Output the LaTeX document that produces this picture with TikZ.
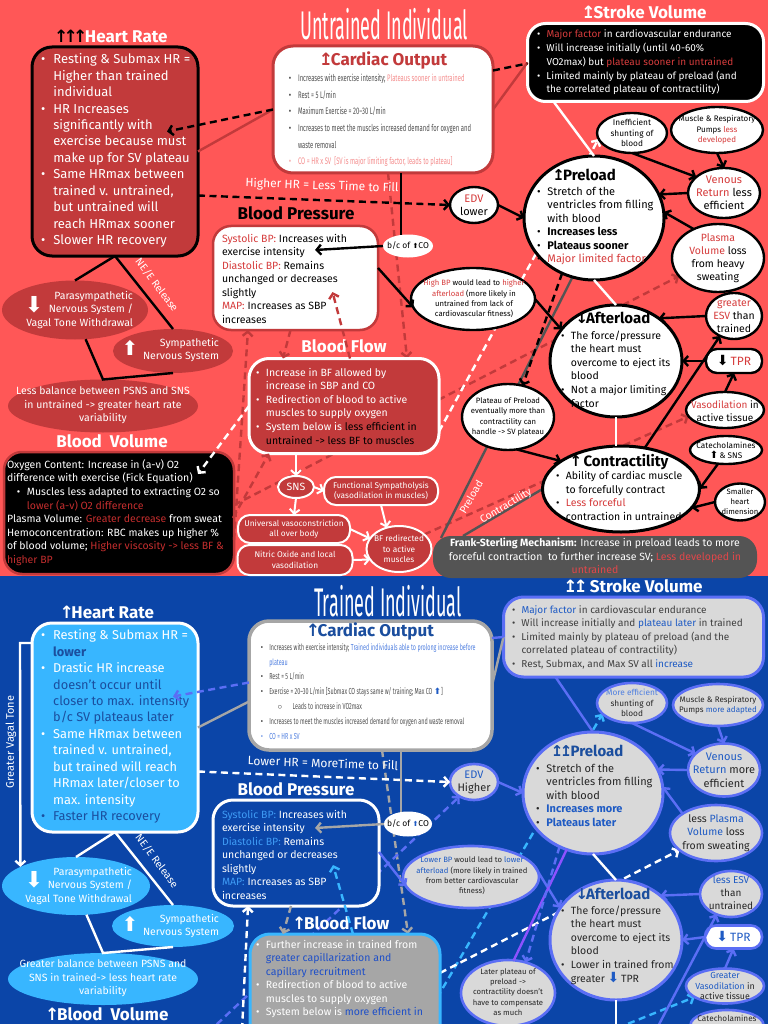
\documentclass[tikz,border=0pt]{standalone}
\usepackage{fontspec}
\setmainfont{Fira Sans}
\newfontfamily\cnd[FakeStretch=0.62]{Fira Sans}
\newfontfamily\tfont[FakeStretch=0.45]{Fira Sans}
\newfontfamily\dvs{DejaVu Sans}
\usetikzlibrary{shapes.geometric,arrows.meta,calc}
\pgfdeclarelayer{bgl}\pgfdeclarelayer{lns}\pgfsetlayers{bgl,lns,main}
\definecolor{bgred}{HTML}{FF5757}
\definecolor{dred}{HTML}{C23A3B}
\definecolor{tred}{HTML}{D63C3C}
\definecolor{vred}{HTML}{C42E2E}
\definecolor{pnk}{HTML}{F58E8E}
\definecolor{fsred}{HTML}{E0474A}
\definecolor{txg}{HTML}{505050}
\definecolor{dgray}{HTML}{545454}
\definecolor{bgblue}{HTML}{0B45A8}
\definecolor{lblue}{HTML}{38B6FF}
\definecolor{peri}{HTML}{5B6EF5}
\definecolor{lgray}{HTML}{D9D9D9}
\definecolor{tblue}{HTML}{1F5BC4}
\definecolor{dblue}{HTML}{1B4E9E}
\definecolor{cblue}{HTML}{4F7FE0}
\definecolor{sblue}{HTML}{3E9BF5}
\definecolor{bfblue}{HTML}{1E4FC8}
\definecolor{mgray}{HTML}{A6A6A6}
\definecolor{purp}{HTML}{8C52FF}
\definecolor{dk}{HTML}{262626}
\definecolor{svg}{HTML}{404040}
\newcommand\fs[2]{\fontsize{#1}{#2}\selectfont}
\newcommand\bu{\makebox[0.95em][l]{\textbullet}}
\newcommand\ci{\hspace*{0.95em}}
\newcommand\au{{\dvs\bfseries\hspace{-0.14em}↑\hspace{-0.14em}}}
\newcommand\ad{{\dvs\bfseries\hspace{-0.14em}↓\hspace{-0.14em}}}
\newcommand\ab{{\dvs\bfseries\hspace{-0.12em}↥\hspace{-0.12em}}}
\newcommand\bup{{\dvs ⬆}}
\newcommand\bdn{{\dvs ⬇}}
\tikzset{
 nb/.style={inner sep=0pt, outer sep=0pt},
 rbox/.style={nb, rectangle, rounded corners=18pt},
 oval/.style={nb, ellipse},
 wov/.style={oval, draw=black, line width=2.4pt, fill=white},
 gov/.style={oval, draw=peri, line width=2.6pt, fill=lgray},
 ttl/.style={nb, font=\fs{17}{20}\bfseries},
 txl/.style={nb, align=left, anchor=west},
 txc/.style={nb, align=center},
 arr/.style={-{Straight Barb[length=4.5pt,width=10pt]}},
 cn/.style={line width=2.4pt},
 dsh/.style={dash pattern=on 7pt off 4.5pt},
}
\begin{document}
\begin{tikzpicture}[x=1pt,y=-1pt]
\useasboundingbox (0,0) rectangle (768,1024);
\begin{pgfonlayer}{bgl}
\fill[bgred] (0,0) rectangle (768,576);
\fill[bgblue] (0,576) rectangle (768,1024);
\end{pgfonlayer}
\coordinate (gv1) at (20,643);
\coordinate (cb2) at (616,1030);
\coordinate (cb3) at (655,1032);
\coordinate (wv1) at (242,1030);
\coordinate (lbs) at (500,1075);
\coordinate (pv1) at (200,1040);

% ================= TOP: UNTRAINED =================
\node[nb, font=\tfont\fs{40}{40}, text=white] (ut) at (384,24) {Untrained Individual};

\node[ttl, text=white] (hrT) at (112,36) {{\color{black}\au\au\au}Heart Rate};
\node[rbox, rounded corners=20pt, draw=black, line width=3pt, fill=dred, minimum width=166pt, minimum height=209pt] (hr) at (115,151.5) {};
\node[txl, text=white, font=\fs{13}{16.45}] (hrTx) at (41,150.5) {\bu Resting \& Submax HR =\\ \ci Higher than trained\\ \ci individual\\ \bu HR Increases\\ \ci significantly with\\ \ci exercise because must\\ \ci make up for SV plateau\\ \bu Same HRmax between\\ \ci trained v. untrained,\\ \ci but untrained will\\ \ci reach HRmax sooner\\ \bu Slower HR recovery};

\node[rbox, rounded corners=20pt, draw=dred, line width=3pt, fill=white, minimum width=220pt, minimum height=127pt] (co) at (383,109.5) {};
\node[ttl, text=dred] (coT) at (384,60) {\ab Cardiac Output};
\node[txl, text=txg, font=\cnd\fs{9.5}{16.6}] (coTx) at (289,120.5) {{\color{black}\bu}Increases with exercise intensity; {\color{pnk}Plateaus sooner in untrained}\\ {\color{black}\bu}Rest = 5 L/min\\ {\color{black}\bu}Maximum Exercise = 20–30 L/min\\ {\color{black}\bu}Increases to meet the muscles increased demand for oxygen and\\ \ci waste removal\\ {\color{pnk}\bu CO = HR x SV\ \ [SV is major limiting factor, leads to plateau]}};

\node[ttl, text=white] (svT) at (645,12) {\ab Stroke Volume};
\node[rbox, draw=white, line width=3pt, fill=black, minimum width=236pt, minimum height=78pt] (sv) at (645.5,62.5) {};
\node[txl, text=white, font=\fs{10}{13.8}] (svTx) at (537,62.5) {\bu {\color{tred}Major factor} in cardiovascular endurance\\ \bu Will increase initially (until 40-60\%\\ \ci VO2max) but {\color{tred}plateau sooner in untrained}\\ \bu Limited mainly by plateau of preload (and\\ \ci the correlated plateau of contractility)};

\node[wov, minimum width=70pt, minimum height=40pt] (shunt) at (632,133) {};
\node[txc, font=\fs{8.3}{10.5}] (shuntTx) at (632,133) {Inefficient\\shunting of\\blood};
\node[wov, minimum width=92pt, minimum height=46pt] (pumps) at (717,130) {};
\node[txc, font=\fs{8}{10.5}] (pumpsTx) at (717,130) {Muscle \& Respiratory\\Pumps {\color{tred}less}\\{\color{tred}developed}};
\node[wov, minimum width=72pt, minimum height=50pt] (ven) at (724,193) {};
\node[txc, font=\fs{11}{13}] (venTx) at (724,193) {{\color{tred}Venous}\\{\color{tred}Return} less\\efficient};
\node[wov, minimum width=92pt, minimum height=68pt] (plv) at (718,258) {};
\node[txc, font=\fs{10.5}{13.2}] (plvTx) at (718,258) {{\color{tred}Plasma}\\{\color{tred}Volume} loss\\from heavy\\sweating};
\node[wov, minimum width=48pt, minimum height=36pt] (edv) at (474,205) {};
\node[txc, font=\fs{11}{13}] (edvTx) at (474,205) {{\color{tred}EDV}\\lower};

\node[wov, line width=3pt, minimum width=140pt, minimum height=124pt] (pre) at (594,218) {};
\node[nb, font=\fs{15}{18}\bfseries] (preT) at (585,175) {\ab Preload};
\node[txl, font=\fs{11}{13.4}] (preTx) at (537,226) {\bu Stretch of the\\ \ci ventricles from filling\\ \ci with blood\\ \bu \textbf{Increases less}\\ \bu \textbf{Plateaus sooner}\\ \bu {\color{tred}Major limited factor}};

\node[ttl] (bpT) at (296,213) {Blood Pressure};
\node[rbox, draw=dred, line width=2.5pt, fill=white, minimum width=165pt, minimum height=104pt] (bp) at (295.5,278) {};
\node[txl, font=\fs{10.5}{13.5}] (bpTx) at (222,278.5) {{\color{tred}Systolic BP:} Increases with\\exercise intensity\\{\color{tred}Diastolic BP:} Remains\\unchanged or decreases\\slightly\\{\color{tred}MAP:} Increases as SBP\\increases};

\node[oval, fill=white, minimum width=50pt, minimum height=23pt] (bc) at (408,246) {};
\node[nb, font=\fs{8.5}{10}] (bcTx) at (408,246) {b/c of {\fs{7}{7}\bup}CO};

\node[nb, rotate=-53, text=white, font=\fs{10.5}{12}] (ne) at (157,285) {NE/E Release};
\node[oval, fill=dred, minimum width=146pt, minimum height=59pt] (para) at (75,310) {};
\node[nb, text=white, font=\fs{22}{22}] (paA) at (34,305) {\bdn};
\node[nb, align=right, anchor=east, text=white, font=\fs{10.5}{13.5}] (paTx) at (133,310) {Parasympathetic\\Nervous System /\\Vagal Tone Withdrawal};
\node[oval, fill=dred, minimum width=120pt, minimum height=44pt] (sym) at (173,351) {};
\node[nb, text=white, font=\fs{20}{20}] (syA) at (130,348) {\bup};
\node[nb, align=right, anchor=east, text=white, font=\fs{10.5}{13.5}] (syTx) at (219,350) {Sympathetic\\Nervous System};
\node[oval, fill=dred, minimum width=190pt, minimum height=53pt] (lb) at (103,406) {};
\node[txc, text=white, font=\fs{10.5}{13.4}] (lbTx) at (103,405.5) {Less balance between PSNS and SNS\\in untrained -> greater heart rate\\variability};

\node[ttl, text=white] (bvT) at (112,441) {Blood\ \ Volume};
\node[rbox, draw=dred, line width=2.5pt, fill=black, minimum width=230pt, minimum height=122pt] (bv) at (119,513) {};
\node[txl, text=white, font=\fs{10.5}{13.55}] (bvTx) at (7,512.5) {Oxygen Content: Increase in (a-v) O2\\difference with exercise (Fick Equation)\\ \ci\bu Muscles less adapted to extracting O2 so\\ \ci\ci{\color{vred}lower (a-v) O2 difference}\\Plasma Volume: {\color{vred}Greater decrease} from sweat\\Hemoconcentration: RBC makes up higher \%\\of blood volume; {\color{vred}Higher viscosity -> less BF \&}\\{\color{vred}higher BP}};

\node[ttl, text=white] (bfT) at (344,346) {Blood Flow};
\node[rbox, rounded corners=20pt, draw=white, line width=3pt, fill=dred, minimum width=190pt, minimum height=95pt] (bf) at (344,406) {};
\node[txl, text=white, font=\fs{10.5}{13.6}] (bfTx) at (256,406) {\bu Increase in BF allowed by\\ \ci increase in SBP and CO\\ \bu Redirection of blood to active\\ \ci muscles to supply oxygen\\ \bu System below is {\color{black}less efficient in}\\ \ci{\color{black}untrained -> less BF to muscles}};

\node[oval, draw=white, line width=2pt, fill=dred, minimum width=36pt, minimum height=22pt] (sns) at (296,487) {};
\node[nb, text=white, font=\fs{10.5}{12}] (snsTx) at (296,487) {SNS};
\node[rbox, rounded corners=12pt, draw=white, line width=2pt, fill=dred, minimum width=114pt, minimum height=28pt] (fsy) at (381,491) {};
\node[txc, text=white, font=\fs{8.3}{10.5}] (fsyTx) at (381,491) {Functional Sympatholysis\\(vasodilation in muscles)};
\node[rbox, rounded corners=12pt, draw=white, line width=2pt, fill=dred, minimum width=112pt, minimum height=28pt] (univ) at (294,529) {};
\node[txc, text=white, font=\fs{8.3}{10.5}] (univTx) at (294,529) {Universal vasoconstriction\\all over body};
\node[rbox, rounded corners=12pt, draw=white, line width=2pt, fill=dred, minimum width=115pt, minimum height=30pt] (nit) at (295,560) {};
\node[txc, text=white, font=\fs{8.3}{10.5}] (nitTx) at (295,560) {Nitric Oxide and local\\vasodilation};
\node[oval, draw=white, line width=2pt, fill=dred, minimum width=65pt, minimum height=46pt] (bfr) at (399,549) {};
\node[txc, text=white, font=\fs{8.3}{10.5}] (bfrTx) at (399,549) {BF redirected\\to active\\muscles};

\node[wov, minimum width=124pt, minimum height=62pt] (hbp) at (473,299) {};
\node[txc, font=\fs{7.7}{10.3}] (hbpTx) at (474,299) {{\color{tred}High BP} would lead to {\color{tred}higher}\\{\color{tred}afterload} (more likely in\\untrained from lack of\\cardiovascular fitness)};

\node[wov, line width=3pt, minimum width=132pt, minimum height=112pt] (aft) at (616,361) {};
\node[nb, font=\fs{15}{18}\bfseries] (aftT) at (614,318) {\ad Afterload};
\node[txl, font=\fs{10.5}{13.6}] (aftTx) at (561,369) {\bu The force/pressure\\ \ci the heart must\\ \ci overcome to eject its\\ \ci blood\\ \bu Not a major limiting\\ \ci factor};

\node[wov, minimum width=92pt, minimum height=66pt] (plat) at (508,417) {};
\node[txc, font=\fs{7.7}{10.6}] (platTx) at (508,417) {Plateau of Preload\\eventually more than\\contractility can\\handle -> SV plateau};

\node[wov, line width=3pt, minimum width=157pt, minimum height=86pt] (con) at (621,489) {};
\node[nb, font=\fs{15}{18}\bfseries] (conT) at (620,462) {\au\ Contractility};
\node[txl, font=\fs{10.5}{13.4}] (conTx) at (556,496) {\bu Ability of cardiac muscle\\ \ci to forcefully contract\\ \bu {\color{tred}Less forceful}\\ \ci contraction in untrained};

\node[wov, minimum width=56pt, minimum height=46pt] (esv) at (734,316) {};
\node[txc, font=\fs{10.5}{13}] (esvTx) at (734,316) {{\color{tred}greater}\\{\color{tred}ESV} than\\trained};
\node[rbox, rounded corners=11pt, draw=black, line width=2.4pt, fill=white, minimum width=56pt, minimum height=24pt] (tpr) at (734,361) {};
\node[nb, font=\fs{12}{12}] (tprTx) at (734,361) {{\fs{14}{14}\bdn}\,{\color{tred}TPR}};
\node[wov, minimum width=78pt, minimum height=36pt] (vaso) at (725,410) {};
\node[txc, font=\fs{10}{12.5}] (vasoTx) at (725,411) {{\color{tred}Vasodilation} in\\active tissue};
\node[wov, minimum width=72pt, minimum height=28pt] (cat) at (726,450) {};
\node[txc, font=\fs{8.2}{10}] (catTx) at (726,450) {Catecholamines\\{\fs{10}{10}\bup}\,\& SNS};
\node[wov, minimum width=50pt, minimum height=37pt] (shd) at (740,502) {};
\node[txc, font=\fs{7.7}{10}] (shdTx) at (740,502) {Smaller\\heart\\dimension};

\node[rbox, fill=dgray, minimum width=324pt, minimum height=42pt] (fsm) at (595,557) {};
\node[txc, text=white, font=\fs{10.5}{13.5}] (fsmTx) at (595,556) {\textbf{Frank-Sterling Mechanism:} Increase in preload leads to more\\forceful contraction\ \ to further increase SV; {\color{fsred}Less developed in}\\{\color{fsred}untrained}};

\node[nb, rotate=-2, text=white, font=\fs{12}{14}] (hhr) at (322,186) {Higher HR = Less Time to Fill};
\node[nb, rotate=60, text=white, font=\fs{10.5}{12}] (plLab) at (471,497) {Preload};
\node[nb, rotate=31, text=white, font=\fs{10.5}{12}] (ctLab) at (506,506) {Contractility};

% top connectors, behind
\begin{pgfonlayer}{lns}
\draw[cn, dred, dsh, arr] ($(co.south)+(5,0)$) -- ($(bf.north)+(63,0)$);
\draw[cn, dred, dsh, arr] ($(bv.east)+(0,-8)$) -- (plv.205);
\draw[cn, dred, dsh, arr] (bfr.30) -- (vaso.190);
\draw[cn, white, dsh, arr] (bf.-15) -- (shunt.190);
\draw[cn, dgray] (pre.250) -- ($(fsm.north west)+(8,2)$);
\draw[cn, dgray] (con.west) -- ($(fsm.north west)+(30,0)$);
\end{pgfonlayer}
\draw[cn, dred] (co.west) -- (hr.east);
\draw[cn, dred] (co.east) -- (sv.west);
\draw[cn, dsh] ($(co.east)+(0,-39)$) -- ($(sv.west)+(0,1)$);
\draw[cn, dsh, arr] (co.west) -- ($(hr.center)+(52,-20)$);
\draw[cn, dsh, arr] ($(hr.east)+(0,44)$) -- (edv.west);
\draw[cn] ($(co.south)+(18,0)$) -- ($(bc.north)+(-7,0)$);
\draw[cn, arr] (bc.west) -- ($(bp.north west)+(102,24)$);
\draw[cn, arr] ($(bp.east)+(0,-10)$) -- (hbp.188);
\draw[cn, arr] (hbp.east) -- (aft.150);
\draw[cn, arr] (edv.east) -- (pre.west);
\draw[cn, arr] (shunt.south) -- (ven.150);
\draw[cn, arr] (pumps.south) -- (ven.north);
\draw[cn, arr] (ven.west) -- (pre.20);
\draw[cn, arr] (plv.130) -- (pre.5);
\draw[cn, white] ($(sv.south)+(-92,0)$) -- (pre.north);
\draw[cn, white] (pre.south) -- (aft.north);
\draw[cn, white] (aft.south) -- (aft.south |- con.north);
\draw[cn, dsh, arr] (pre.240) -- (plat.65);
\draw[cn, arr] (plat.-75) -- (con.155);
\draw[cn, arr] (esv.west) -- (aft.45);
\draw[cn, arr] (tpr.west) -- (aft.east);
\draw[cn, arr] (vaso.north) -- (tpr.south);
\draw[cn, arr] (con.60) -- (esv.235);
\draw[cn, arr] (cat.240) -- (con.east);
\draw[cn, arr] (shd.west) -- (con.-15);
\draw[cn] (hr.south) -- (sym.north);
\draw[cn] (hr.south) -- (para.north);
\draw[cn] (para.-70) -- (lb.north) -- (sym.south);
\draw[line width=2pt, white, arr] (bf.south -| sns.north) -- (sns.north);
\draw[line width=2pt, white, arr] (sns.east) -- (fsy.west);
\draw[line width=2pt, white, arr] (sns.south) -- (univ.north);
\draw[line width=2pt, white, arr] (fsy.south) -- (bfr.120);
\draw[line width=2pt, white, arr] (univ.east) -- (bfr.160);
\draw[line width=2pt, white, arr] (nit.east) -- (bfr.200);
\draw[cn, white, dsh, arr] (bf.west) -- ($(bv.north east)+(-36,22)$);
\draw[cn, dred, dsh, arr] ($(bp.south)+(-5,0)$) -- ($(bf.north)+(-61,0)$);
\draw[cn, dred, dsh, arr] ($(bf.north)+(6,0)$) -- ($(bp.south)+(37,-38)$);
\draw[cn, dred, dsh, arr] ($(bv.east)+(0,27)$) -- ($(bp.south west)+(35,0)$);
\draw[cn, dred, dsh, arr] ($(bv.east)+(-1,5)$) -- ($(bf.south west)+(20,0)$);

% ================= BOTTOM: TRAINED =================
\node[nb, font=\tfont\fs{40}{40}, text=white] (tt) at (388,601) {Trained Individual};
\node[ttl, text=white] (hrT2) at (108,612) {\au Heart Rate};
\node[rbox, rounded corners=20pt, draw=white, line width=3pt, fill=lblue, minimum width=166pt, minimum height=209pt] (hr2) at (115,727.5) {};
\node[txl, text=white, font=\fs{12.8}{16.45}] (hr2Tx) at (41,726.5) {\bu Resting \& Submax HR =\\ \ci{\color{dblue}\textbf{lower}}\\ \bu Drastic HR increase\\ \ci{\color{dblue}doesn’t occur until}\\ \ci{\color{dblue}closer to max. intensity}\\ \ci{\color{dblue}b/c SV plateaus later}\\ \bu Same HRmax between\\ \ci trained v. untrained,\\ \ci but trained will reach\\ \ci HRmax later/closer to\\ \ci max. intensity\\ {\color{dblue}\bu Faster HR recovery}};
\node[nb, rotate=90, text=white, font=\fs{11}{12}] (gvt) at (11,742) {Greater Vagal Tone};

\node[rbox, rounded corners=20pt, draw=mgray, line width=3.5pt, fill=white, minimum width=243pt, minimum height=129pt] (co2) at (370.5,685.5) {};
\node[ttl, text=dblue] (co2T) at (371,631) {\au Cardiac Output};
\node[txl, text=txg, font=\cnd\fs{8.7}{14.85}] (co2Tx) at (261,691.5) {{\color{black}\bu}Increases with exercise intensity; {\color{cblue}Trained individuals able to prolong increase before}\\ \ci{\color{cblue}plateau}\\ {\color{black}\bu}Rest = 5 L/min\\ {\color{black}\bu}Exercise = 20–30 L/min [Submax CO stays same w/ training; Max CO {\color{tblue}\bup}]\\ \ci\ci$\circ$\hspace{1.2em}Leads to increase in VO2max\\ {\color{black}\bu}Increases to meet the muscles increased demand for oxygen and waste removal\\ {\color{cblue}\bu CO = HR x SV}};

\node[ttl, text=white] (sv2T) at (634,586) {\ab\ab\ Stroke Volume};
\node[rbox, rounded corners=20pt, draw=peri, line width=3pt, fill=lgray, minimum width=260pt, minimum height=80pt] (sv2) at (633.5,637) {};
\node[txl, text=svg, font=\fs{10}{13.5}] (sv2Tx) at (512,637) {\bu {\color{tblue}Major factor} in cardiovascular endurance\\ \bu Will increase initially and {\color{tblue}plateau later} in trained\\ \bu Limited mainly by plateau of preload (and the\\ \ci correlated plateau of contractility)\\ \bu Rest, Submax, and Max SV all {\color{tblue}increase}};

\node[gov, minimum width=70pt, minimum height=40pt] (shunt2) at (632,703) {};
\node[txc, text=dk, font=\fs{8.3}{10.5}] (shunt2Tx) at (632,703) {{\color{cblue}More efficient}\\shunting of\\blood};
\node[gov, minimum width=90pt, minimum height=42pt] (pumps2) at (718,705) {};
\node[txc, text=dk, font=\fs{8}{10.5}] (pumps2Tx) at (718,705) {Muscle \& Respiratory\\Pumps {\color{tblue}more adapted}};
\node[gov, minimum width=72pt, minimum height=53pt] (ven2) at (724,770) {};
\node[txc, text=dk, font=\fs{11}{13.5}] (ven2Tx) at (724,770) {{\color{tblue}Venous}\\{\color{tblue}Return} more\\efficient};
\node[gov, minimum width=92pt, minimum height=56pt] (plv2) at (716,833) {};
\node[txc, text=dk, font=\fs{10.5}{13.3}] (plv2Tx) at (716,833) {less {\color{tblue}Plasma}\\{\color{tblue}Volume} loss\\from sweating};
\node[gov, minimum width=48pt, minimum height=36pt] (edv2) at (474,782) {};
\node[txc, text=dk, font=\fs{11}{13}] (edv2Tx) at (474,782) {{\color{tblue}EDV}\\Higher};

\node[gov, line width=3pt, minimum width=140pt, minimum height=122pt] (pre2) at (593,793) {};
\node[nb, text=dblue, font=\fs{15}{18}\bfseries] (pre2T) at (588,751) {\ab\ab Preload};
\node[txl, text=dk, font=\fs{11}{13.5}] (pre2Tx) at (536,795) {\bu Stretch of the\\ \ci ventricles from filling\\ \ci with blood\\ \bu {\color{tblue}\textbf{Increases more}}\\ \bu {\color{tblue}\textbf{Plateaus later}}};

\node[ttl, text=white] (bp2T) at (296,789) {Blood Pressure};
\node[rbox, rounded corners=20pt, draw=white, line width=3pt, fill=bgblue, minimum width=166pt, minimum height=106pt] (bp2) at (296,853) {};
\node[txl, text=white, font=\fs{10.5}{13.5}] (bp2Tx) at (222,854.5) {{\color{sblue}Systolic BP:} Increases with\\exercise intensity\\{\color{sblue}Diastolic BP:} Remains\\unchanged or decreases\\slightly\\{\color{sblue}MAP:} Increases as SBP\\increases};
\node[oval, fill=white, minimum width=48pt, minimum height=25pt] (bc2) at (408,824) {};
\node[nb, font=\fs{8.5}{10}] (bc2Tx) at (408,824) {b/c of {\fs{7}{7}\color{tblue}\bup}CO};

\node[gov, minimum width=136pt, minimum height=62pt] (lowbp) at (471,877) {};
\node[txc, text=dk, font=\fs{7.7}{10.3}] (lowbpTx) at (472,876) {{\color{tblue}Lower BP} would lead to {\color{tblue}lower}\\{\color{tblue}afterload} (more likely in trained\\from better cardiovascular\\fitness)};

\node[nb, rotate=-53, text=white, font=\fs{10.5}{12}] (ne2) at (157,861) {NE/E Release};
\node[oval, fill=lblue, minimum width=148pt, minimum height=58pt] (para2) at (76,886) {};
\node[nb, text=white, font=\fs{22}{22}] (pa2A) at (34,880) {\bdn};
\node[nb, align=right, anchor=east, text=white, font=\fs{10.5}{13.5}] (pa2Tx) at (132,886) {Parasympathetic\\Nervous System /\\Vagal Tone Withdrawal};
\node[oval, fill=lblue, minimum width=122pt, minimum height=42pt] (sym2) at (173,926) {};
\node[nb, text=white, font=\fs{20}{20}] (sy2A) at (130,924) {\bup};
\node[nb, align=right, anchor=east, text=white, font=\fs{10.5}{13.5}] (sy2Tx) at (219,926) {Sympathetic\\Nervous System};
\node[oval, fill=lblue, minimum width=190pt, minimum height=52pt] (lb2) at (103,979) {};
\node[txc, text=white, font=\fs{10.5}{13.4}] (lb2Tx) at (103,978.5) {Greater balance between PSNS and\\SNS in trained-> less heart rate\\variability};
\node[ttl, text=white] (bv2T) at (108,1014) {\au Blood\ \ Volume};

\node[ttl, text=white] (bf2T) at (342,923) {\au Blood Flow};
\node[rbox, rounded corners=20pt, draw=lblue, line width=3pt, fill=mgray, minimum width=190pt, minimum height=132pt] (bf2) at (345,1000) {};
\node[nb, align=left, anchor=north west, text=white, font=\fs{10.5}{13.5}] (bf2Tx) at (256,940) {\bu Further increase in trained from\\ \ci{\color{bfblue}greater capillarization and}\\ \ci{\color{bfblue}capillary recruitment}\\ \bu Redirection of blood to active\\ \ci muscles to supply oxygen\\ \bu System below is {\color{bfblue}more efficient in}};

\node[gov, line width=3pt, minimum width=132pt, minimum height=120pt] (aft2) at (616,940) {};
\node[nb, text=dblue, font=\fs{15}{18}\bfseries] (aft2T) at (614,894) {\ad Afterload};
\node[txl, text=dk, font=\fs{10.5}{13.6}] (aft2Tx) at (561,945) {\bu The force/pressure\\ \ci the heart must\\ \ci overcome to eject its\\ \ci blood\\ \bu Lower in trained from\\ \ci greater {\fs{14}{13}\color{tblue}\bdn}\,TPR};

\node[gov, minimum width=94pt, minimum height=66pt] (lat) at (508,993) {};
\node[txc, text=dk, font=\fs{7.7}{10.2}] (latTx) at (508,992) {Later plateau of\\preload ->\\contractility doesn’t\\have to compensate\\as much};

\node[gov, minimum width=62pt, minimum height=46pt] (esv2) at (731,894) {};
\node[txc, text=dk, font=\fs{10}{12.8}] (esv2Tx) at (731,893) {{\color{tblue}less ESV}\\than\\untrained};
\node[rbox, rounded corners=11pt, draw=peri, line width=2.6pt, fill=white, minimum width=57pt, minimum height=23pt] (tpr2) at (733.5,937) {};
\node[nb, text=tblue, font=\fs{12}{12}] (tpr2Tx) at (733.5,937) {{\fs{14}{14}\bdn}\,TPR};
\node[gov, minimum width=78pt, minimum height=35pt] (vaso2) at (725,986) {};
\node[txc, text=dk, font=\fs{8.8}{10.5}] (vaso2Tx) at (725,986) {{\color{tblue}Greater}\\{\color{tblue}Vasodilation} in\\active tissue};
\node[gov, minimum width=73pt, minimum height=30pt] (cat2) at (727,1025) {};
\node[nb, text=dk, font=\fs{8.2}{10}] (cat2Tx) at (727,1018) {Catecholamines};

\node[nb, rotate=-2, text=white, font=\fs{12}{14}] (lhr) at (323,763) {Lower HR = MoreTime to Fill};

% bottom connectors
\begin{pgfonlayer}{lns}
\draw[cn, mgray, dsh, arr] ($(co2.south)+(11.5,0)$) -- ($(bf2.north)+(63,0)$);
\draw[cn, lblue, dsh, arr] ($(bf2.east)+(-3,-2)$) -- (shunt2.200);
\draw[cn, white, dsh, arr] ($(bf2.east)+(0,-27)$) -- (plv2.205);
\draw[cn, lblue, dsh, arr] (lbs) -- (vaso2.200);
\draw[cn, peri, dsh, arr] (pv1) -- (edv2.225);
\end{pgfonlayer}
\draw[cn, mgray] (co2.east) -- (sv2.west);
\draw[cn, peri] ($(co2.north east)+(0,17)$) -- (sv2.west);
\draw[cn, peri, dsh, arr] ($(co2.west)+(0,-3)$) -- ($(hr2.center)+(58,-31)$);
\draw[cn, mgray] ($(co2.west)+(0,16)$) -- (hr2.east);
\draw[cn, white, dsh, arr] ($(hr2.east)+(0,44)$) -- (edv2.west);
\draw[cn, peri, arr] (edv2.east) -- (pre2.west);
\draw[cn, peri, arr] (shunt2.south) -- (ven2.150);
\draw[cn, peri, arr] (pumps2.south) -- (ven2.north);
\draw[cn, peri, arr] (ven2.west) -- (pre2.20);
\draw[cn, peri, arr] (plv2.150) -- (pre2.5);
\draw[cn, peri] ($(sv2.south)+(-78,0)$) -- (pre2.north);
\draw[cn, white] (pre2.south) -- (aft2.north);
\draw[cn, white] (aft2.south) -- (cb2);
\draw[cn, mgray] ($(co2.south)+(30.5,0)$) -- ($(bc2.north)+(-7,0)$);
\draw[cn, mgray, arr] (bc2.west) -- ($(bp2.north west)+(102,28)$);
\draw[cn, mgray, dsh, arr] ($(bp2.south)+(-5,0)$) -- ($(bf2.north)+(-62,0)$);
\draw[cn, peri, arr] ($(bp2.east)+(0,-1)$) -- (lowbp.188);
\draw[cn, peri, arr] (lowbp.10) -- (aft2.150);
\draw[cn, white] (hr2.south) -- (sym2.north);
\draw[cn, white] (hr2.south) -- (para2.north);
\draw[cn, white] (para2.-70) -- (lb2.north) -- (sym2.south);
\draw[cn, white, arr] ($(hr2.west)+(0,-84.5)$) -- (gv1) -- (para2.161);
\draw[cn, peri, arr] (esv2.west) -- (aft2.45);
\draw[cn, peri, arr] (tpr2.west) -- (aft2.east);
\draw[cn, peri, arr] (vaso2.north) -- (tpr2.south);
\draw[cn, peri, arr] (cb3) -- (esv2.235);
\draw[cn, purp] (pre2.245) -- (lat.80);
\draw[cn, peri, dsh, arr] (pre2.238) -- (lat.60);
\draw[cn, lblue, dsh, arr] ($(bf2.north)+(8,0)$) -- ($(bp2.south)+(37,-41)$);
\draw[cn, white, dsh, arr] (wv1) -- ($(bp2.south west)+(35,0)$);
\end{tikzpicture}
\end{document}
